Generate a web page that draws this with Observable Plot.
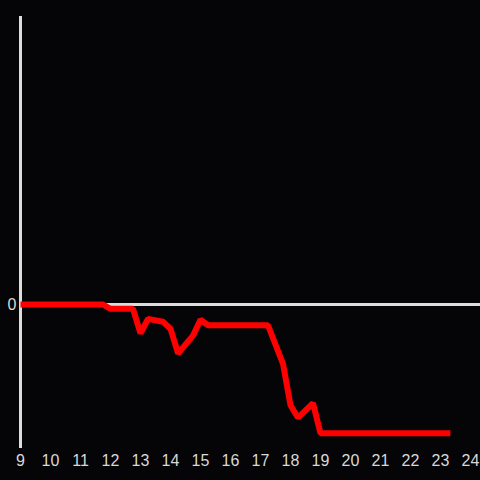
<!DOCTYPE html>
<html>
<head>
<meta charset="utf-8">
<script src="https://cdn.jsdelivr.net/npm/d3@7"></script>
<script src="https://cdn.jsdelivr.net/npm/@observablehq/plot@0.6"></script>
<style>
  html, body { margin: 0; padding: 0; background: #050407; }
  #chart svg { display: block; }
</style>
</head>
<body>
<div id="chart"></div>
<script>
const times  = [9, 11.75, 12.0, 12.75, 13.0, 13.25, 13.75, 14.0, 14.25, 14.75, 15.0, 15.25, 17.25, 17.75, 18.0, 18.25, 18.75, 19.0, 23.33];
const values = [0, 0, -0.15, -0.15, -1.0, -0.5, -0.6, -0.84, -1.7, -1.08, -0.53, -0.72, -0.72, -2.06, -3.5, -3.93, -3.43, -4.47, -4.47];
const xTicks = [9, 10, 11, 12, 13, 14, 15, 16, 17, 18, 19, 20, 21, 22, 23, 24];
const yTicks = [0];

const data = times.map((t, i) => ({t, v: values[i]}));

const chart = Plot.plot({
  width: 480,
  height: 480,
  marginLeft: 20,
  marginRight: 10,
  marginTop: 16,
  marginBottom: 32,
  style: {background: "#050407", color: "#d8d8d8", fontFamily: "Liberation Sans, Arial, sans-serif"},
  x: {domain: [9, 24]},
  y: {domain: [-5, 10]},
  marks: [
    Plot.axisX(xTicks, {tickSize: 0, tickPadding: 6, fontSize: 16, fill: "#d8d8d8", tickFormat: d => String(d), label: null}),
    Plot.axisY(yTicks, {tickSize: 0, tickPadding: 4, fontSize: 16, fill: "#d8d8d8", label: null}),
    Plot.ruleX([9], {y1: -5, y2: 10, stroke: "#dddddd", strokeWidth: 3}),
    Plot.ruleY([0], {x1: 9, x2: 24 + 10 / 30, stroke: "#dddddd", strokeWidth: 3, clip: false}),
    Plot.line(data, {x: "t", y: "v", stroke: "#ff0000", strokeWidth: 6, strokeLinejoin: "miter", strokeLinecap: "butt"})
  ]
});
document.getElementById("chart").appendChild(chart);
</script>
</body>
</html>
